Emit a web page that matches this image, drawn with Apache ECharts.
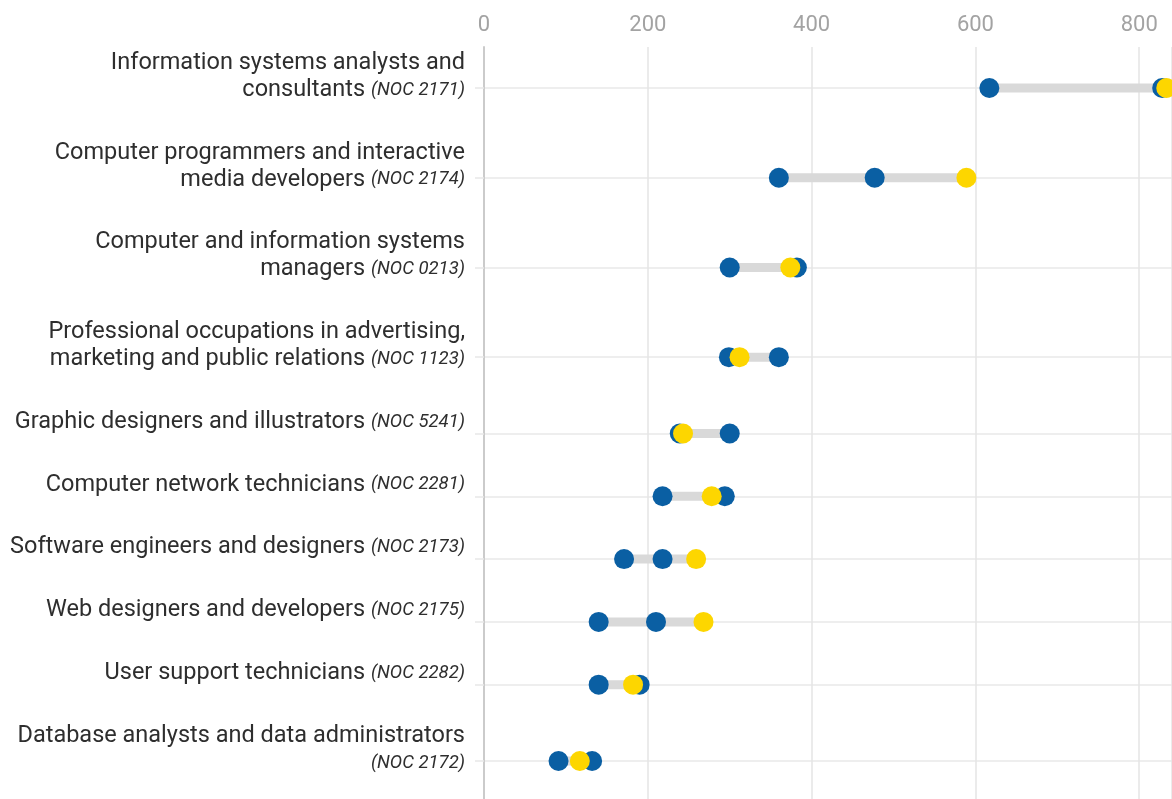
<!DOCTYPE html>
<html>
<head>
<meta charset="utf-8">
<script src="https://cdn.jsdelivr.net/npm/echarts@6/dist/echarts.min.js"></script>
<style>
  html, body { margin: 0; padding: 0; background: #fff; }
  #chart { width: 1172px; height: 799px; }
</style>
</head>
<body>
<div id="chart"></div>
<script>
// occupations, top to bottom; "\n" marks where the label wraps
const occupations = [
  "Information systems analysts and\nconsultants",
  "Computer programmers and interactive\nmedia developers",
  "Computer and information systems\nmanagers",
  "Professional occupations in advertising,\nmarketing and public relations",
  "Graphic designers and illustrators",
  "Computer network technicians",
  "Software engineers and designers",
  "Web designers and developers",
  "User support technicians",
  "Database analysts and data administrators\n"
];
const nocCodes = ["2171", "2174", "0213", "1123", "5241", "2281", "2173", "2175", "2282", "2172"];

// two blue dots and one yellow dot per row
const blueDots1 = [617, 360, 300, 299, 239, 218, 171, 140, 140, 91];
const blueDots2 = [828, 477, 382, 360, 300, 294, 218, 210, 190, 132];
const yellowDots = [833, 589, 374, 312, 243, 278, 259, 268, 182, 117];

const xTicks = [0, 200, 400, 600, 800];

const BLUE = "#0a5fa3";
const YELLOW = "#fdd600";

// rows with wrapped labels get more room than single-line rows
const rowHeight = occupations.map(s => s.includes("\n") ? 10 : 7);
const rowPos = [];
let acc = 0;
rowHeight.forEach((h, i) => {
  if (i === 0) acc = h / 2;
  else acc += (rowHeight[i - 1] + h) / 2;
  rowPos.push(acc);
});

function labelFor(value) {
  const i = rowPos.findIndex(p => Math.abs(p - value) < 0.01);
  if (i < 0) return "";
  const lines = occupations[i].split("\n");
  const last = lines.length - 1;
  return lines.map((ln, k) => {
    let s = ln ? "{n|" + ln + "}" : "";
    if (k === last) s += (ln ? "{n| }" : "") + "{i|(NOC " + nocCodes[i] + ")}";
    return s;
  }).join("\n");
}

const rangeData = rowPos.map((p, i) => {
  const vals = [blueDots1[i], blueDots2[i], yellowDots[i]];
  return [p, Math.min(...vals), Math.max(...vals)];
});

const chart = echarts.init(document.getElementById("chart"));
chart.setOption({
  animation: false,
  backgroundColor: "#ffffff",
  textStyle: { fontFamily: "Roboto" },
  grid: { left: 484, top: 47, right: 0, bottom: 0, containLabel: false },
  xAxis: {
    type: "value",
    position: "top",
    min: 0,
    max: 840,
    interval: 200,
    axisLine: { show: false },
    axisTick: { show: false },
    axisLabel: {
      color: "#a3a3a3",
      fontSize: 22,
      margin: 11,
      customValues: xTicks,
      formatter: v => String(v)
    },
    splitLine: { lineStyle: { color: "#e4e4e4", width: 1.5 } }
  },
  yAxis: {
    type: "value",
    inverse: true,
    min: 0.43,
    max: 84.24,
    axisLine: { show: true, lineStyle: { color: "#cbcbcb", width: 2 } },
    axisTick: {
      show: true,
      customValues: rowPos,
      length: 9,
      lineStyle: { color: "#e8e8e8", width: 1.5 }
    },
    axisLabel: {
      customValues: rowPos,
      margin: 19,
      align: "right",
      verticalAlign: "middle",
      padding: [0, 0, 23, 0],
      formatter: labelFor,
      rich: {
        n: { fontFamily: "Roboto", fontSize: 23.5, color: "#2e2e2e", lineHeight: 27 },
        i: { fontFamily: "Roboto", fontSize: 18.5, fontStyle: "italic", color: "#2e2e2e", lineHeight: 27 }
      }
    },
    splitLine: { show: true, lineStyle: { color: "#e8e8e8", width: 1.5 } }
  },
  series: [
    {
      type: "custom",
      data: rangeData,
      encode: { y: 0, x: [1, 2] },
      renderItem: (params, api) => {
        const a = api.coord([api.value(1), api.value(0)]);
        const b = api.coord([api.value(2), api.value(0)]);
        return {
          type: "line",
          shape: { x1: a[0], y1: a[1], x2: b[0], y2: b[1] },
          style: { stroke: "#d9d9d9", lineWidth: 9, lineCap: "butt" }
        };
      }
    },
    {
      type: "scatter",
      symbolSize: 20,
      itemStyle: { color: BLUE, opacity: 1 },
      data: blueDots1.map((v, i) => [v, rowPos[i]])
    },
    {
      type: "scatter",
      symbolSize: 20,
      itemStyle: { color: BLUE, opacity: 1 },
      data: blueDots2.map((v, i) => [v, rowPos[i]])
    },
    {
      type: "scatter",
      symbolSize: 20,
      itemStyle: { color: YELLOW, opacity: 1 },
      data: yellowDots.map((v, i) => [v, rowPos[i]])
    }
  ]
});
</script>
</body>
</html>
